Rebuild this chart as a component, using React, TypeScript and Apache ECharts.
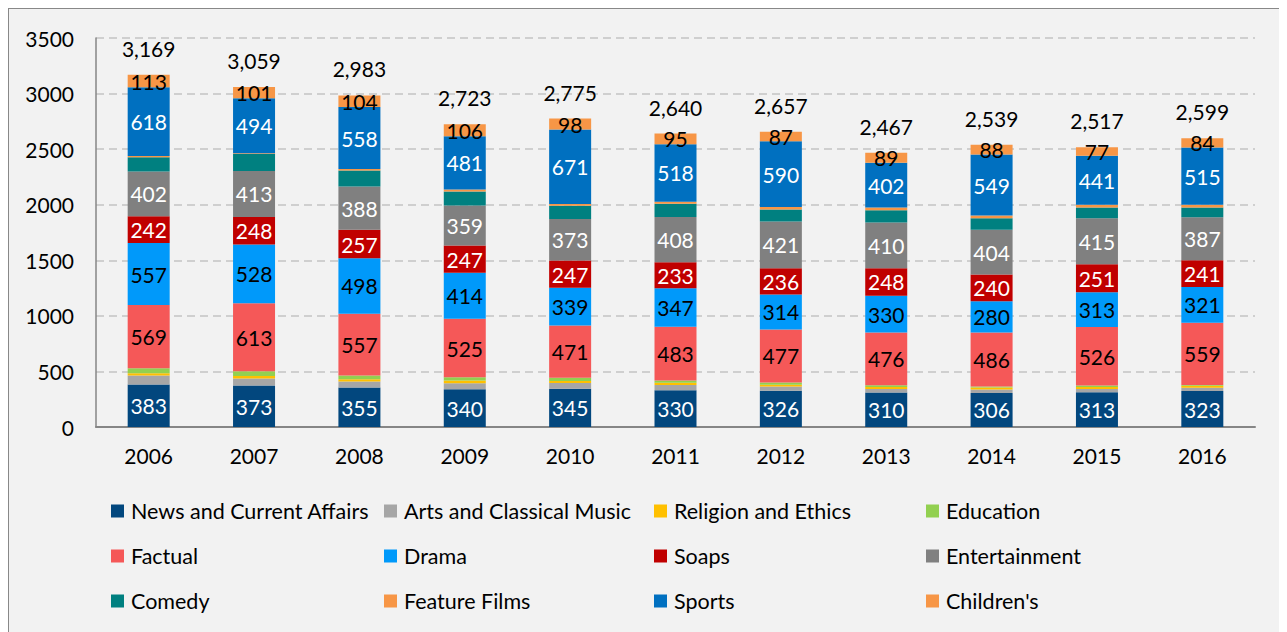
import React, { useEffect, useRef } from "react";
import * as echarts from "echarts";

const categories = ["2006", "2007", "2008", "2009", "2010", "2011", "2012", "2013", "2014", "2015", "2016"];
const news = [383, 373, 355, 340, 345, 330, 326, 310, 306, 313, 323];
const arts = [80, 64, 54, 54, 50, 49, 38, 32, 31, 30, 31];
const religion = [20, 21, 21, 24, 18, 20, 17, 17, 18, 17, 18];
const education = [46, 43, 33, 30, 29, 20, 20, 16, 10, 14, 7];
const factual = [569, 613, 557, 525, 471, 483, 477, 476, 486, 526, 559];
const drama = [557, 528, 498, 414, 339, 347, 314, 330, 280, 313, 321];
const soaps = [242, 248, 257, 247, 247, 233, 236, 248, 240, 251, 241];
const entertainment = [402, 413, 388, 359, 373, 408, 421, 410, 404, 415, 387];
const comedy = [129, 153, 144, 126, 119, 119, 108, 112, 103, 96, 89];
const featureFilms = [10, 8, 14, 17, 15, 18, 23, 25, 24, 24, 24];
const sports = [618, 494, 558, 481, 671, 518, 590, 402, 549, 441, 515];
const childrens = [113, 101, 104, 106, 98, 95, 87, 89, 88, 77, 84];
const totals = [3169, 3059, 2983, 2723, 2775, 2640, 2657, 2467, 2539, 2517, 2599];

const seriesNames = [
  "News and Current Affairs", "Arts and Classical Music", "Religion and Ethics", "Education",
  "Factual", "Drama", "Soaps", "Entertainment",
  "Comedy", "Feature Films", "Sports", "Children's",
];
const seriesData = [news, arts, religion, education, factual, drama, soaps, entertainment, comedy, featureFilms, sports, childrens];
const seriesColors = [
  "#02477E", "#A6A6A6", "#FFC000", "#92D050",
  "#F55858", "#0099FA", "#C00000", "#808080",
  "#008080", "#F79646", "#0070C0", "#F79646",
];
// label colour per series (null = no label)
const labelColors: (string | null)[] = [
  "#FFFFFF", null, null, null,
  "#000000", "#000000", "#FFFFFF", "#FFFFFF",
  null, null, "#FFFFFF", "#000000",
];

const FONT = "Lato";

export default function App() {
  const ref = useRef<HTMLDivElement>(null);
  useEffect(() => {
    document.body.style.overflow = "hidden";
    const chart = echarts.init(ref.current!, null, { renderer: "svg" });
    const legendCols = [102, 375, 645, 917];
    const legendRows = [491, 536, 581];
    const legends = seriesNames.map((name, i) => ({
      data: [name],
      left: legendCols[i % 4],
      top: legendRows[Math.floor(i / 4)],
      padding: 0,
      itemWidth: 13,
      itemHeight: 13,
      icon: "rect",
      selectedMode: false,
      textStyle: { fontFamily: FONT, fontSize: 21.5, color: "#000", padding: [0, 0, 0, 2] },
    }));
    const series: any[] = seriesNames.map((name, i) => ({
      name,
      type: "bar",
      stack: "total",
      barWidth: 42,
      barGap: "-100%",
      data: seriesData[i],
      itemStyle: { color: seriesColors[i] },
      label: labelColors[i]
        ? {
            show: true,
            position: "inside",
            color: labelColors[i],
            fontFamily: FONT,
            fontSize: 21,
          }
        : { show: false },
    }));
    series.push({
      name: "Total",
      type: "bar",
      barWidth: 42,
      barGap: "-100%",
      data: totals,
      silent: true,
      z: 1,
      itemStyle: { color: "rgba(0,0,0,0)" },
      label: {
        show: true,
        position: "top",
        distance: 16,
        color: "#000",
        fontFamily: FONT,
        fontSize: 21,
        formatter: (p: any) => Number(p.value).toLocaleString("en-US"),
      },
    });
    chart.setOption({
      animation: false,
      backgroundColor: "#F2F2F2",
      grid: { left: 87, top: 29, width: 1159, height: 389 },
      legend: legends,
      xAxis: {
        type: "category",
        data: categories,
        axisTick: { show: false },
        axisLine: { show: true, lineStyle: { color: "#868686", width: 2 } },
        axisLabel: { color: "#000", fontFamily: FONT, fontSize: 21, margin: 18 },
      },
      yAxis: {
        type: "value",
        min: 0,
        max: 3500,
        interval: 500,
        axisLine: { show: true, lineStyle: { color: "#868686", width: 1.5 } },
        axisTick: { show: false },
        axisLabel: {
          color: "#000",
          fontFamily: FONT,
          fontSize: 21,
          margin: 22,
          formatter: (v: number) => String(v),
        },
        splitLine: { show: true, lineStyle: { color: "#C3C3C3", width: 1.5, type: [8, 5] } },
      },
      series,
    });
    return () => chart.dispose();
  }, []);
  return (
    <div style={{ width: 1276, height: 630, border: "1px solid #888", borderRightWidth: 2, background: "#F2F2F2" }}>
      <div ref={ref} style={{ width: 1276, height: 630 }} />
    </div>
  );
}
